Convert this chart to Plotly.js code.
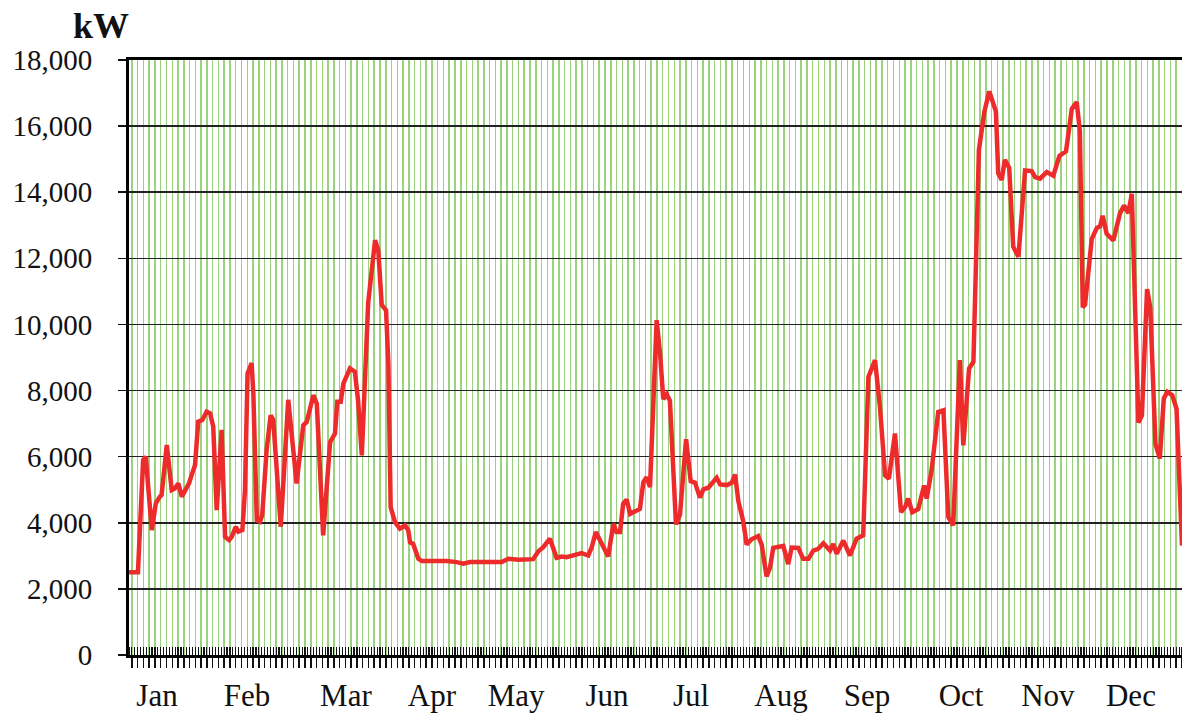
<!DOCTYPE html>
<html>
<head>
<meta charset="utf-8">
<script src="https://cdn.plot.ly/plotly-3.0.1.min.js"></script>
<style>
  html, body { margin: 0; padding: 0; background: #fff; }
  #chart { width: 1182px; height: 713px; }
</style>
</head>
<body>
<div id="chart"></div>
<script>
// Day of year (0 = 1 Jan) at which each value was read
var days = [
  0, 3.1, 4.9, 5.8, 7.9, 9.3, 10.7, 11.3, 13.1, 14.8,
  15.9, 17.1, 18.3, 19.4, 20.8, 21.7, 22.9, 24.0, 25.4, 26.9,
  28.1, 29.2, 30.4, 32.1, 33.3, 34.7, 35.6, 37.0, 37.9, 39.3,
  40.2, 41.1, 42.5, 43.1, 44.3, 45.4, 46.2, 47.7, 49.1, 50.0,
  51.4, 52.6, 55.2, 58.1, 60.4, 61.6, 63.9, 65.1, 67.3, 69.7,
  71.4, 72.2, 73.4, 74.3, 76.6, 78.3, 79.4, 80.7, 82.9, 85.3,
  86.4, 87.6, 89.1, 89.9, 90.7, 92.2, 93.9, 95.7, 96.8, 97.4,
  98.5, 100.3, 101.5, 105.5, 107.8, 110.1, 113.6, 115.9, 118.2, 121.7,
  125.7, 129.2, 131.5, 135.0, 140.1, 141.9, 143.6, 145.9, 148.2, 150.0,
  151.7, 154.0, 156.9, 159.2, 160.4, 161.8, 163.8, 166.1, 167.9, 169.0,
  170.2, 171.3, 172.5, 173.7, 177.1, 178.3, 179.4, 180.6, 182.9, 184.1,
  185.2, 186.4, 187.5, 188.7, 189.6, 191.0, 193.1, 194.7, 196.2, 197.9,
  199.1, 200.8, 203.7, 204.9, 207.2, 208.9, 210.1, 211.2, 212.9, 214.1,
  215.8, 218.1, 219.3, 221.0, 222.2, 223.3, 225.7, 226.8, 228.5, 229.7,
  232.0, 233.7, 235.5, 237.2, 238.9, 240.7, 243.0, 244.1, 245.3, 247.6,
  249.9, 252.2, 254.5, 256.3, 258.6, 260.3, 262.1, 263.4, 265.5, 267.6,
  269.0, 270.1, 271.5, 273.6, 275.6, 276.5, 278.2, 280.5, 282.3, 284.0,
  285.7, 286.9, 288.0, 289.2, 291.2, 292.7, 294.6, 296.5, 298.2, 300.5,
  301.3, 302.5, 303.6, 305.1, 306.5, 308.3, 310.6, 312.9, 314.1, 315.8,
  318.1, 320.4, 322.5, 324.8, 326.8, 328.5, 329.6, 330.6, 331.4, 333.7,
  335.5, 336.6, 337.5, 338.9, 341.2, 343.5, 344.9, 346.4, 347.6, 349.9,
  351.1, 352.9, 354.0, 355.8, 357.3, 358.7, 359.9, 361.6, 363.1, 365.0
];

// Load in kW
var loadKW = [
  2500, 2500, 5900, 6000, 3780, 4590, 4790, 4840, 6350, 4990,
  5040, 5190, 4790, 4940, 5190, 5440, 5750, 7060, 7110, 7360,
  7310, 6910, 4380, 6810, 3575, 3475, 3575, 3880, 3730, 3780,
  4990, 8520, 8830, 7920, 4080, 4030, 4240, 6200, 7250, 7110,
  5190, 3880, 7720, 5190, 6950, 7050, 7860, 7600, 3620, 6440,
  6700, 7660, 7660, 8210, 8670, 8570, 7710, 6040, 10640, 12550,
  12250, 10590, 10430, 8820, 4470, 4020, 3820, 3920, 3770, 3410,
  3360, 2910, 2840, 2840, 2860, 2840, 2810, 2760, 2810, 2810,
  2840, 2810, 2910, 2880, 2900, 3140, 3260, 3520, 2940, 2980,
  2960, 3010, 3080, 3010, 3260, 3720, 3360, 2980, 3970, 3720,
  3720, 4580, 4700, 4270, 4420, 5230, 5380, 5080, 10130, 9100,
  7740, 7890, 7690, 5260, 3950, 4250, 6530, 5260, 5210, 4760,
  5010, 5060, 5360, 5160, 5140, 5210, 5460, 4660, 4050, 3340,
  3500, 3600, 3340, 2380, 2640, 3240, 3300, 3300, 2750, 3250,
  3240, 2910, 2910, 3160, 3210, 3380, 3160, 3360, 3060, 3460,
  3010, 3520, 3620, 8410, 8920, 7500, 5430, 5330, 6700, 4320,
  4470, 4730, 4320, 4420, 5130, 4730, 5590, 7350, 7400, 4170,
  3920, 6900, 8920, 6340, 8670, 8870, 15280, 16440, 17050, 16440,
  14570, 14370, 14980, 14740, 12350, 12050, 14660, 14640, 14460, 14410,
  14610, 14500, 15100, 15240, 16520, 16730, 15850, 10520, 10600, 12580,
  12920, 12970, 13290, 12740, 12540, 13360, 13600, 13370, 13950, 7030,
  7250, 11070, 10510, 6390, 5940, 7760, 7960, 7860, 7450, 3310
];

// Month tick labels and the day positions where they are written
var monthLabels = ["Jan", "Feb", "Mar", "Apr", "May", "Jun", "Jul", "Aug", "Sep", "Oct", "Nov", "Dec"];
var monthLabelDays = [9.7, 40.9, 75.2, 105.0, 134.2, 165.7, 194.8, 226.0, 255.8, 288.4, 318.5, 347.3];

var yTickVals = [0, 2000, 4000, 6000, 8000, 10000, 12000, 14000, 16000, 18000];

var serif = "Liberation Serif, Times New Roman, serif";

var traces = [
  {
    x: days,
    y: loadKW,
    type: "scatter",
    mode: "lines",
    line: { color: "#ee2b2b", width: 4.5 },
    hoverinfo: "x+y",
    showlegend: false
  },
  {
    x: monthLabelDays,
    y: monthLabelDays.map(function () { return 0; }),
    xaxis: "x2",
    type: "scatter",
    mode: "markers",
    marker: { opacity: 0, size: 1 },
    hoverinfo: "skip",
    showlegend: false
  }
];

var layout = {
  width: 1182,
  height: 713,
  margin: { l: 129, r: 0, t: 60, b: 58 },
  paper_bgcolor: "#ffffff",
  plot_bgcolor: "#ffffff",
  showlegend: false,
  font: { family: serif, color: "#111" },
  xaxis: {
    range: [0, 365],
    tickmode: "linear",
    tick0: 1,
    dtick: 2,
    ticks: "outside",
    ticklen: 10,
    tickwidth: 1.5,
    tickcolor: "#111",
    showticklabels: false,
    showgrid: true,
    gridcolor: "#9bd27c",
    gridwidth: 1.5,
    minor: { dtick: 1, tick0: 0, ticks: "inside", ticklen: 8, tickwidth: 1.2, tickcolor: "#111", showgrid: false },
    showline: true,
    linecolor: "#000",
    linewidth: 3,
    mirror: true,
    zeroline: false,
    fixedrange: true
  },
  xaxis2: {
    overlaying: "x",
    anchor: "y",
    side: "bottom",
    range: [0, 365],
    tickmode: "array",
    tickvals: monthLabelDays,
    ticktext: monthLabels,
    ticks: "",
    ticklabelstandoff: 19,
    tickfont: { family: serif, size: 31, color: "#111" },
    showgrid: false,
    showline: false,
    zeroline: false,
    fixedrange: true
  },
  yaxis: {
    range: [0, 18000],
    tickmode: "array",
    tickvals: yTickVals,
    tickformat: ",d",
    ticks: "outside",
    ticklen: 8,
    tickwidth: 1.5,
    tickcolor: "#111",
    ticklabelstandoff: 20,
    tickfont: { family: serif, size: 29, color: "#111" },
    showgrid: true,
    gridcolor: "#222",
    gridwidth: 1.5,
    showline: true,
    linecolor: "#000",
    linewidth: 3,
    zeroline: false,
    fixedrange: true
  },
  annotations: [
    {
      text: "<b>kW</b>",
      xref: "paper",
      yref: "paper",
      x: -0.0266,
      y: 1.057,
      xanchor: "center",
      yanchor: "middle",
      showarrow: false,
      font: { family: serif, size: 36, color: "#111" }
    }
  ]
};

Plotly.newPlot("chart", traces, layout, { displayModeBar: false, staticPlot: true });
</script>
</body>
</html>
